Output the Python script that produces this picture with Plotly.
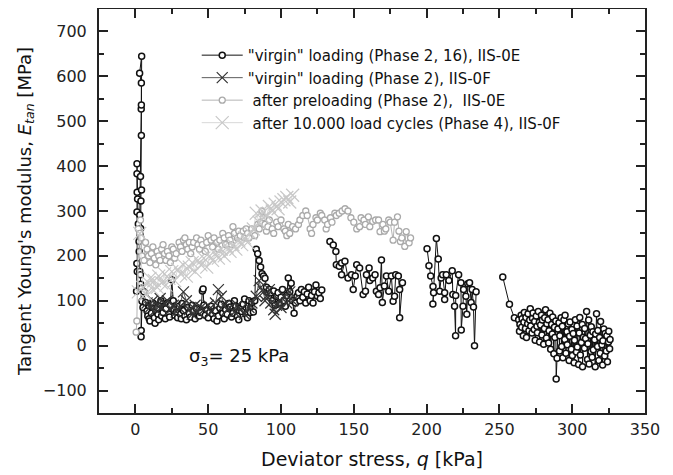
import plotly.graph_objects as go

# ---- data ----
# "virgin" loading (Phase 2, 16), IIS-0E  (None = gap between loading stages)
q_vE = [0.8, 1.0, 1.3, 1.1, 1.2, 1.1, 1.1, 1.5, 2.0, 2.5, 3.0, 3.5, 4.1, 4.0, 4.1, 4.1, 2.9, 4.3,
        4.2, 3.8, 3.6, 3.2, 2.6, 3.0, 3.4, 3.6, 4.0, 3.9, 4.0, 4.6, 5.2, 5.8,
        7, 8, 8.5, 9.5, 10, 11, 11.5, 12, 13, 13.5, 14, 15, 15.5, 16, 17, 17.5, 18, 19, 20, 20.5,
        21, 22, 23, 23.5, 24, 25, 26, 26.5, 27, 28, 29, 30, 31, 31.5, 32, 33, 34, 35, 36, 37,
        38, 39, 40, 41, 42, 43, 44, 45, 46, 46.5, 47, 48, 49, 50, 51, 52, 53, 54, 55, 56,
        57, 58, 59, 60, 61, 62, 63, 64, 65, 66, 67, 68, 69, 70, 71, 72, 73, 74, 75, 76,
        77, 78, 79, 80,
        81, 82, 83, 84, 85, 86, 87, 88, 89, 90, 91, 92, 93, 94, 95, 96, 97, 98, 99, 100,
        101, 102, 103, 104, 105, 106, 107, 108, 109, 110, 111, 112, 113, 114, 115, 116, 117,
        118, 119, 120, 121, 122, 123, 124, 125, 126, 127, 128,
        None,
        133.6, 135.9, 137.7, 138, 140, 141.6, 141.6, 143.9, 146, 148.4, 149.6, 151, 152, 154,
        156.4, 158, 158.7, 160.5, 161, 163, 164.6, 165.5, 167, 168, 169, 169.6, 171, 172.4,
        174, 175.8, 177, 178, 178.8, 180.6, 181.5, 181.5, 183.4,
        None,
        200.3, 201.6, 202.8, 204.4, 204.8, 204.3, 206.7, 208, 209, 210, 211, 212.4, 212.4,
        213.5, 215.3, 217.6, 218, 219.2, 219.9, 220, 222, 223.6, 223.8, 225, 225.4, 227,
        227.6, 228.3, 229.5, 230.6, 231.3, 232.2, 232.9, 234,
        None,
        252.3, 256.9, 260.3,
        263.2, 263.8, 264.1, 264.9, 265.3, 265.6, 266.4, 266.8, 267.1, 267.9,
        268.2, 268.6, 269.4, 269.7, 270.3, 270.8, 271.2, 271.5, 272.4, 272.7,
        273.1, 273.9, 274.2, 274.6, 275.3, 275.8, 276.1, 276.7, 277.4, 277.6,
        278.3, 278.9, 279.2, 279.5, 280.4, 280.9, 281.1, 281.7, 282.3, 282.6,
        283.4, 283.8, 284.1, 284.7, 285.2, 285.9, 286.3, 286.6, 287.4, 287.8,
        288.1, 288.7, 289.0, 289.6, 290.2, 290.9, 291.3, 291.5, 292.4, 292.8,
        293.2, 293.6, 294.3, 294.9, 295.1, 295.7, 296.4, 296.6, 297.3, 297.9,
        298.2, 298.5, 299.4, 299.8, 300.1, 300.7, 301.3, 301.6, 302.2, 302.9,
        303.3, 303.5, 304.4, 304.8, 305.2, 305.6, 306.3, 306.9, 307.1, 307.7,
        308.4, 308.6, 309.2, 309.9, 310.5, 310.8, 311.3, 311.6, 312.4, 312.9,
        313.1, 313.7, 314.2, 314.5, 315.4, 315.8, 316.1, 316.7, 317.4, 317.6,
        318.3, 318.8, 319.2, 319.5, 320.4, 320.9, 321.1, 321.7, 322.3, 322.6,
        323.4, 323.8, 324.2, 324.9, 325.1, 325.7, 326.0]
E_vE = [121, 183, 165, 298, 342, 383, 405, 327, 271, 232, 291, 377, 468, 527, 536, 585, 607, 645,
        347, 322, 261, 247, 210, 165, 158, 137, 128, 20, 34, 99, 85, 120,
        96, 77, 66, 60, 55, 72, 88, 95, 62, 50, 78, 85, 70, 58, 92, 100, 66, 74, 88, 60,
        82, 95, 70, 64, 90, 147, 100, 80, 68, 75, 62, 88, 70, 60, 94, 78, 66, 58, 85, 72,
        64, 90, 76, 60, 82, 70, 66, 74, 122, 126, 90, 68, 80, 62, 74, 88, 70, 60, 78, 55,
        66, 84, 92, 72, 60, 80, 70, 94, 86, 64, 72, 100, 88, 66, 58, 84, 76, 92, 104, 70,
        62, 100, 74, 96,
        75, 100, 215, 205, 190, 175, 160, 155, 150, 130, 120, 125, 118, 100, 122, 90, 110, 118, 95, 108,
        125, 100, 88, 112, 151, 120, 139, 100, 72, 95, 110, 118, 100, 125, 108, 120, 95,
        115, 130, 100, 112, 95, 120, 135, 110, 118, 105, 124,
        None,
        232, 224, 210, 180, 177, 184, 158, 188, 151, 158, 125, 155, 180, 173,
        114, 121, 158, 173, 145, 151, 158, 121, 114, 129, 191, 96, 133, 155,
        121, 155, 99, 110, 158, 155, 125, 62, 140,
        None,
        216, 178, 155, 132, 118, 93, 239, 193, 121, 151, 158, 118, 103,
        158, 145, 167, 114, 88, 22, 112, 158, 140, 35, 88, 125, 110,
        70, 138, 140, 96, 125, 86, 0, 120,
        None,
        153, 92, 62,
        58, 32, 47, 68, 41, 60, 22, 52, 74, 38,
        63, 18, 49, 71, 33, 57, 82, 44, 28, 61,
        73, 36, 54, 12, 66, 43, 29, 76, 52, 8,
        46, 68, 24, 57, 3, 38, 62, 80, 17, 49,
        58, 6, 33, 72, -8, 47, 26, 64, -18, 41,
        18, 55, -74, -28, 37, 51, -12, 22, 62, -2,
        43, -27, 57, 14, 68, -17, 31, 2, 48, -33,
        21, 53, -8, 36, -22, 27, -38, 12, 58, -14,
        44, -3, -42, 28, 63, -21, 7, 47, -47, 19,
        -6, 38, 16, 76, -31, 4, 57, -41, 23, -13,
        42, -26, 31, -9, 13, -47, 26, 71, -2, 34,
        -33, 18, -17, 54, 2, -43, 11, 37, -23, 27,
        -12, 22, -36, 8, 32, -7, 14]

# "virgin" loading (Phase 2), IIS-0F
q_vF = [8, 10, 12, 14, 15, 17, 18, 20, 22, 24, 26, 28, 30, 33, 35, 37, 39, 41, 43, 45, 47,
        50, 52, 55, 57, 59, 61, 63, 65, 68, 70, 72, 75, 78, 80, 83, 85, 86, 88, 89, 90, 92,
        93, 95, 96, 97, 99, 100, 102, 104, 106, 108]
E_vF = [95, 85, 100, 80, 90, 105, 85, 95, 100, 80, 90, 75, 85, 120, 100, 80, 70, 90, 75, 85, 80,
        90, 75, 95, 125, 110, 90, 80, 85, 75, 90, 80, 70, 85, 95, 110, 145, 130, 120, 100, 110, 125,
        95, 80, 70, 90, 100, 85, 110, 95, 120, 100]

# after preloading (Phase 2), IIS-0E
q_pE = [0.5, 1.0, 2.0, 3.0, 3.5, 4.0, 4.5,
        6, 7, 8, 9, 10, 11, 12, 13, 14, 15, 16, 17, 18, 19, 20, 21, 22, 23, 24, 25, 26, 27, 28,
        30, 31, 32, 33, 34, 35, 36, 37, 38, 39, 40, 42, 43, 44, 45, 46, 48, 49, 50, 52, 53, 54,
        56, 57, 58, 60, 61, 62, 64, 65, 66, 67, 68, 70, 71, 72, 74, 75, 76, 77, 78, 80, 81, 82,
        84, 85, 86, 87, 88, 89, 90, 91, 92, 94, 95, 97, 98, 100, 102, 103, 104, 105, 106, 108,
        110, 112, 113, 115, 117, 118, 120, 121, 122, 124, 125, 127, 128, 130, 131, 132, 134, 135,
        137, 138, 140, 142, 144, 146, 148, 150, 152, 154, 155, 157, 158, 160, 161, 163, 165, 167,
        168, 170, 171, 172, 174, 175, 177, 178, 180, 181, 182, 183, 185, 186, 188, 189]
E_pE = [30, 55, 260, 250, 280, 240, 200,
        190, 230, 215, 200, 185, 205, 220, 195, 180, 210, 200, 190, 215, 225, 205, 190, 210, 200, 185, 220, 215, 195, 205,
        230, 220, 210, 235, 240, 225, 215, 230, 205, 220, 230, 240, 225, 215, 235, 225, 210, 230, 245, 235, 220, 240,
        230, 215, 235, 250, 240, 225, 245, 235, 225, 265, 250, 240, 255, 245, 255, 240, 260, 250, 240, 260, 250, 245,
        270, 260, 275, 300, 285, 270, 255, 265, 280, 260, 250, 275, 265, 280, 260, 255, 245, 270, 250, 265,
        260, 270, 280, 290, 300, 290, 260, 250, 270, 285, 280, 295, 290, 280, 260, 270, 285, 275,
        295, 290, 295, 300, 305, 300, 285, 275, 260, 265, 285, 280, 270, 287, 265, 277, 280, 280,
        254, 270, 255, 260, 280, 275, 235, 275, 287, 255, 232, 240, 221, 254, 229, 240]

# after 10.000 load cycles (Phase 4), IIS-0F
q_cF = [2, 3, 5, 7, 9, 10, 12, 13, 15, 16, 18, 20, 21, 23, 25, 27, 29, 31, 33, 35, 37, 39,
        41, 43, 45, 47, 49, 51, 53, 55, 57, 59, 61, 63, 65, 67, 69, 71, 73, 75, 77, 79, 81,
        83, 85, 87, 88, 90, 92, 94, 96, 98, 100, 102, 104, 106, 108]
E_cF = [120, 250, 130, 115, 140, 150, 125, 145, 130, 155, 140, 160, 135, 150, 165, 145, 170, 160,
        180, 155, 175, 185, 165, 190, 180, 195, 175, 200, 190, 205, 195, 215, 200, 220, 210, 225,
        215, 235, 225, 240, 230, 250, 260, 295, 275, 300, 285, 290, 310, 300, 315, 305, 320, 325,
        330, 320, 335]

FONT = "DejaVu Sans, Liberation Sans, Arial, sans-serif"

fig = go.Figure()

fig.add_trace(go.Scatter(
    x=q_vE, y=E_vE, mode="lines+markers", connectgaps=False,
    name='"virgin" loading (Phase 2, 16), IIS-0E', legendgroup="a",
    line=dict(color="#111111", width=1),
    marker=dict(symbol="circle", size=6, color="white", line=dict(color="#111111", width=1.5))
))
fig.add_trace(go.Scatter(
    x=q_vF, y=E_vF, mode="lines+markers",
    name='"virgin" loading (Phase 2), IIS-0F', legendgroup="b",
    line=dict(color="#333333", width=0.8),
    marker=dict(symbol="x-thin-open", size=11, color="#333333", line=dict(color="#333333", width=1.2))
))
fig.add_trace(go.Scatter(
    x=q_pE, y=E_pE, mode="lines+markers",
    name=" after preloading (Phase 2),  IIS-0E", legendgroup="c",
    line=dict(color="#b4b4b4", width=1),
    marker=dict(symbol="circle", size=6, color="white", line=dict(color="#aaaaaa", width=1.3))
))
fig.add_trace(go.Scatter(
    x=q_cF, y=E_cF, mode="lines+markers",
    name=" after 10.000 load cycles (Phase 4), IIS-0F", legendgroup="d",
    line=dict(color="#cfcfcf", width=0.8),
    marker=dict(symbol="x-thin-open", size=13, color="#c8c8c8", line=dict(color="#c8c8c8", width=1.2))
))

fig.add_annotation(x=71, y=-26, xref="x", yref="y", showarrow=False,
                   text="σ<sub>3</sub>= 25 kPa", font=dict(size=18, color="#111111"))

axis_common = dict(
    showline=True, linecolor="#222222", linewidth=2, mirror="ticks",
    ticks="inside", ticklen=9, tickwidth=1.5, tickcolor="#222222",
    showgrid=False, zeroline=False,
    tickfont=dict(size=16, color="#222222"),
)

fig.update_xaxes(range=[-25, 350], dtick=50, tick0=0, ticklabelstandoff=1,
                 minor=dict(ticks="inside", ticklen=5, dtick=25, tick0=0, tickcolor="#222222"),
                 title=dict(text="Deviator stress, <i>q</i> [kPa]", font=dict(size=19, color="#111111"), standoff=14),
                 **axis_common)
fig.update_yaxes(range=[-150, 750], dtick=100, tick0=0, ticklabelstandoff=7,
                 minor=dict(ticks="inside", ticklen=5, dtick=50, tick0=0, tickcolor="#222222"),
                 title=dict(text="Tangent Young's modulus, <i>E</i><sub><i>tan</i></sub> [MPa]",
                            font=dict(size=18, color="#111111"), standoff=7),
                 **axis_common)

# the page body adds an 8px margin, so the figure is 8px smaller than the window
fig.update_layout(
    width=665, height=467,
    margin=dict(l=91, r=28, t=1, b=62, autoexpand=False),
    paper_bgcolor="white", plot_bgcolor="white",
    font=dict(family=FONT, color="#111111"),
    legend=dict(x=0.179, y=0.926, xanchor="left", yanchor="top", itemwidth=41,
                bgcolor="rgba(0,0,0,0)", font=dict(size=15, color="#111111"),
                tracegroupgap=0),
    showlegend=True,
)

fig.write_html("out.html")
